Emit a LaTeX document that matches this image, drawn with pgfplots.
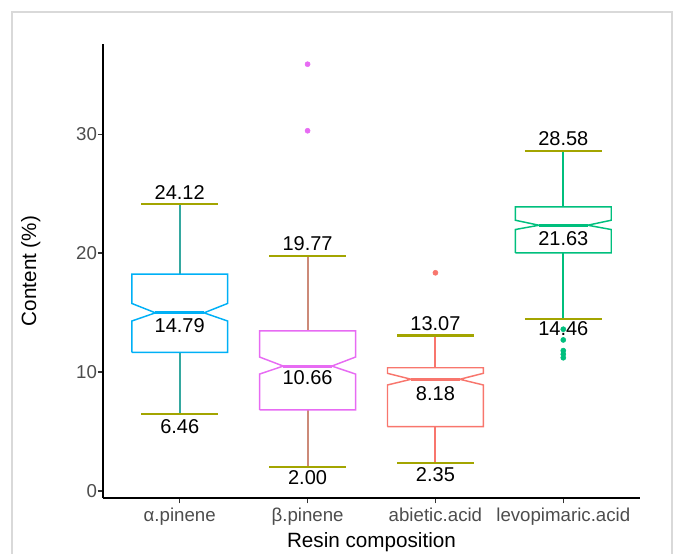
\documentclass[border=0pt]{standalone}
\usepackage{pgfplots}
\pgfplotsset{compat=1.18}
\usepackage{fontspec}
\setmainfont{Liberation Sans}

\definecolor{cA}{HTML}{00B0F6}
\definecolor{cB}{HTML}{E76BF3}
\definecolor{cC}{HTML}{F8766D}
\definecolor{cD}{HTML}{00BF7D}
\definecolor{capc}{HTML}{A3A500}
\definecolor{wA}{HTML}{35A8A0}
\definecolor{wB}{HTML}{CC8A78}
\definecolor{tickgray}{HTML}{4D4D4D}
\definecolor{frame}{HTML}{D9D9D9}

\begin{document}
\begin{tikzpicture}
\useasboundingbox (-77.25pt,-41.25pt) rectangle (430.5pt,373.5pt);
\draw[frame, line width=1.2pt] (-68.25pt,-60pt) rectangle (426.75pt,364.5pt);
\begin{axis}[
    scale only axis,
    width=402.75pt, height=340.5pt,
    xmin=0.4, xmax=4.6, ymin=-0.6, ymax=37.6,
    axis x line*=bottom, axis y line*=left,
    axis line style={black, line width=1.5pt, -},
    xtick={1,2,3,4},
    xticklabels={α.pinene, β.pinene, abietic.acid, levopimaric.acid},
    ytick={0,10,20,30},
    tick align=outside, major tick length=4pt,
    tick style={black!80, line width=1.1pt},
    ticklabel style={font=\fontsize{14}{16}\selectfont, text=tickgray},
    yticklabel style={xshift=3pt},
    /pgf/number format/assume math mode=true,
    xlabel={Resin composition}, ylabel={Content (\%)},
    label style={font=\fontsize{15.5}{18}\selectfont},
    ylabel shift=20pt,
    xlabel shift=-1.5pt,
    clip=false,
]
% whiskers
\addplot[wA, line width=1.5pt] coordinates {(1,18.24) (1,24.12)};
\addplot[wA, line width=1.5pt] coordinates {(1,11.66) (1,6.46)};
\addplot[wB, line width=1.5pt] coordinates {(2,13.47) (2,19.77)};
\addplot[wB, line width=1.5pt] coordinates {(2,6.81) (2,2.00)};
\addplot[cC, line width=1.5pt] coordinates {(3,10.36) (3,13.07)};
\addplot[cC, line width=1.5pt] coordinates {(3,5.40) (3,2.35)};
\addplot[cD, line width=1.5pt] coordinates {(4,23.90) (4,28.58)};
\addplot[cD, line width=1.5pt] coordinates {(4,20.03) (4,14.46)};
% caps
\addplot[capc, line width=1.8pt] coordinates {(0.7,24.12) (1.3,24.12)};
\addplot[capc, line width=1.8pt] coordinates {(0.7,6.46) (1.3,6.46)};
\addplot[capc, line width=1.8pt] coordinates {(1.7,19.77) (2.3,19.77)};
\addplot[capc, line width=1.8pt] coordinates {(1.7,2.00) (2.3,2.00)};
\addplot[capc, line width=1.8pt] coordinates {(2.7,13.07) (3.3,13.07)};
\addplot[capc, line width=1.8pt] coordinates {(2.7,2.35) (3.3,2.35)};
\addplot[capc, line width=1.8pt] coordinates {(3.7,28.58) (4.3,28.58)};
\addplot[capc, line width=1.8pt] coordinates {(3.7,14.46) (4.3,14.46)};
% notched boxes
\addplot[cA, line width=1.1pt] coordinates {
  (0.625,11.66) (1.375,11.66) (1.375,14.29) (1.19,14.98) (1.375,15.77)
  (1.375,18.24) (0.625,18.24) (0.625,15.77) (0.81,14.98) (0.625,14.29) (0.625,11.66)};
\addplot[cA, line width=2.2pt] coordinates {(0.81,14.98) (1.19,14.98)};
\addplot[cB, line width=1.1pt] coordinates {
  (1.625,6.81) (2.375,6.81) (2.375,9.83) (2.19,10.50) (2.375,11.26)
  (2.375,13.47) (1.625,13.47) (1.625,11.26) (1.81,10.50) (1.625,9.83) (1.625,6.81)};
\addplot[cB, line width=2.2pt] coordinates {(1.81,10.50) (2.19,10.50)};
\addplot[cC, line width=1.1pt] coordinates {
  (2.625,5.40) (3.375,5.40) (3.375,8.91) (3.19,9.39) (3.375,9.89)
  (3.375,10.36) (2.625,10.36) (2.625,9.89) (2.81,9.39) (2.625,8.91) (2.625,5.40)};
\addplot[cC, line width=2.2pt] coordinates {(2.81,9.39) (3.19,9.39)};
\addplot[cD, line width=1.1pt] coordinates {
  (3.625,20.03) (4.375,20.03) (4.375,21.99) (4.19,22.35) (4.375,22.77)
  (4.375,23.90) (3.625,23.90) (3.625,22.77) (3.81,22.35) (3.625,21.99) (3.625,20.03)};
\addplot[cD, line width=2.2pt] coordinates {(3.81,22.35) (4.19,22.35)};
% outliers
\addplot[only marks, mark=*, mark size=1.9pt, cB] coordinates {(2,30.3) (2,35.9)};
\addplot[only marks, mark=*, mark size=1.9pt, cC] coordinates {(3,18.35)};
\addplot[only marks, mark=*, mark size=1.9pt, cD] coordinates {(4,13.6) (4,12.7) (4,11.8) (4,11.5) (4,11.2)};
% value labels
\begin{scope}[every node/.style={font=\fontsize{15}{18}\selectfont, inner sep=0pt}]
\node[yshift=9pt] at (axis cs:1,24.12) {24.12};
\node[yshift=-9.5pt] at (axis cs:1,14.98) {14.79};
\node[yshift=-9.5pt] at (axis cs:1,6.46) {6.46};
\node[yshift=9pt] at (axis cs:2,19.77) {19.77};
\node[yshift=-9pt] at (axis cs:2,10.50) {10.66};
\node[yshift=-8pt] at (axis cs:2,2.00) {2.00};
\node[yshift=9pt] at (axis cs:3,13.07) {13.07};
\node[yshift=-11pt] at (axis cs:3,9.39) {8.18};
\node[yshift=-9pt] at (axis cs:3,2.35) {2.35};
\node[yshift=9.5pt] at (axis cs:4,28.58) {28.58};
\node[yshift=-10pt] at (axis cs:4,22.35) {21.63};
\node[yshift=-7.5pt] at (axis cs:4,14.46) {14.46};
\end{scope}
\end{axis}
\end{tikzpicture}
\end{document}
